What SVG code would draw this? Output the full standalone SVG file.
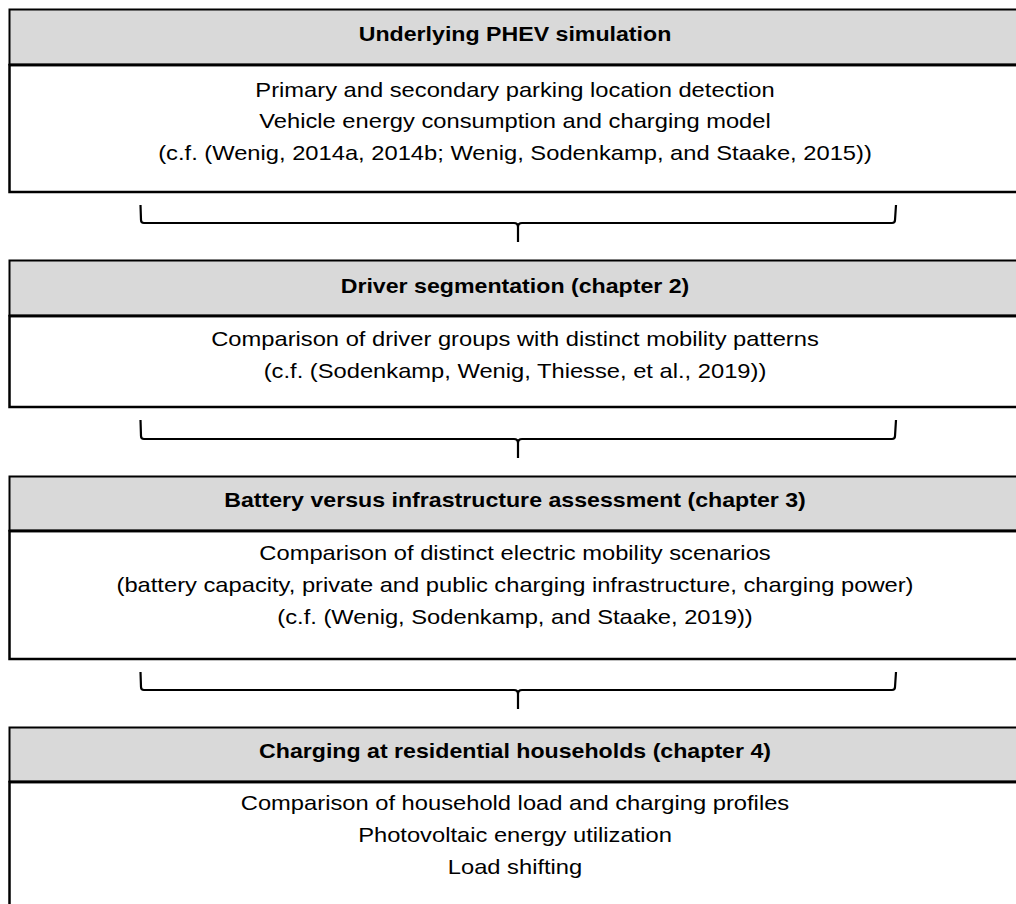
<svg xmlns="http://www.w3.org/2000/svg" width="1016" height="904" viewBox="0 0 1016 904">
<style>
.hdr{fill:#d9d9d9;stroke:#000;stroke-width:2}
.body{fill:#fff;stroke:#000;stroke-width:2.5}
.t{font-family:"Liberation Sans",Arial,sans-serif;font-size:20.5px;font-weight:bold;text-anchor:middle;fill:#000}
.b{font-family:"Liberation Sans",Arial,sans-serif;font-size:21px;text-anchor:middle;fill:#000}
.br{fill:none;stroke:#000;stroke-width:2.2;stroke-linejoin:round}
</style>
<rect width="1016" height="904" fill="#fff"/>
<g id="node1">
<rect class="body" x="9.5" y="65" width="1020" height="127"/>
<rect class="hdr" x="9.5" y="9.5" width="1020" height="55"/>
<line x1="9.5" y1="65" x2="1020" y2="65" stroke="#000" stroke-width="2.5"/>
<g transform="translate(515,0) scale(1.13,1)">
<text class="t" x="0" y="41.5">Underlying PHEV simulation</text>
<text class="b" x="0" y="97">Primary and secondary parking location detection</text>
<text class="b" x="0" y="128.5">Vehicle energy consumption and charging model</text>
<text class="b" x="0" y="160">(c.f. (Wenig, 2014a, 2014b; Wenig, Sodenkamp, and Staake, 2015))</text>
</g>
</g>
<g id="node2">
<rect class="body" x="9.5" y="316" width="1020" height="91"/>
<rect class="hdr" x="9.5" y="260.5" width="1020" height="55"/>
<line x1="9.5" y1="316" x2="1020" y2="316" stroke="#000" stroke-width="2.5"/>
<g transform="translate(515,0) scale(1.13,1)">
<text class="t" x="0" y="293">Driver segmentation (chapter 2)</text>
<text class="b" x="0" y="346">Comparison of driver groups with distinct mobility patterns</text>
<text class="b" x="0" y="378">(c.f. (Sodenkamp, Wenig, Thiesse, et al., 2019))</text>
</g>
</g>
<g id="node3">
<rect class="body" x="9.5" y="531" width="1020" height="128"/>
<rect class="hdr" x="9.5" y="476.5" width="1020" height="54"/>
<line x1="9.5" y1="531" x2="1020" y2="531" stroke="#000" stroke-width="2.5"/>
<g transform="translate(515,0) scale(1.13,1)">
<text class="t" x="0" y="507.5">Battery versus infrastructure assessment (chapter 3)</text>
<text class="b" x="0" y="560">Comparison of distinct electric mobility scenarios</text>
<text class="b" x="0" y="592">(battery capacity, private and public charging infrastructure, charging power)</text>
<text class="b" x="0" y="624">(c.f. (Wenig, Sodenkamp, and Staake, 2019))</text>
</g>
</g>
<g id="node4">
<rect class="body" x="9.5" y="782" width="1020" height="140"/>
<rect class="hdr" x="9.5" y="727.5" width="1020" height="54"/>
<line x1="9.5" y1="782" x2="1020" y2="782" stroke="#000" stroke-width="2.5"/>
<g transform="translate(515,0) scale(1.13,1)">
<text class="t" x="0" y="758">Charging at residential households (chapter 4)</text>
<text class="b" x="0" y="810">Comparison of household load and charging profiles</text>
<text class="b" x="0" y="842">Photovoltaic energy utilization</text>
<text class="b" x="0" y="874">Load shifting</text>
</g>
</g>
<g id="connectors">
<path class="br" d="M140.5,205 L141,220 Q141,223 144,223 L514,223 Q518,223 518,227 L518,242 M518,227 Q518,223 522,223 L892,223 Q895,223 895,220 L896,205"/>
<path class="br" d="M140.5,420 L141,436 Q141,439 144,439 L514,439 Q518,439 518,443 L518,458 M518,443 Q518,439 522,439 L892,439 Q895,439 895,436 L896,420"/>
<path class="br" d="M140.5,672 L141,687 Q141,690 144,690 L514,690 Q518,690 518,694 L518,709 M518,694 Q518,690 522,690 L892,690 Q895,690 895,687 L896,672"/>
</g>
</svg>
